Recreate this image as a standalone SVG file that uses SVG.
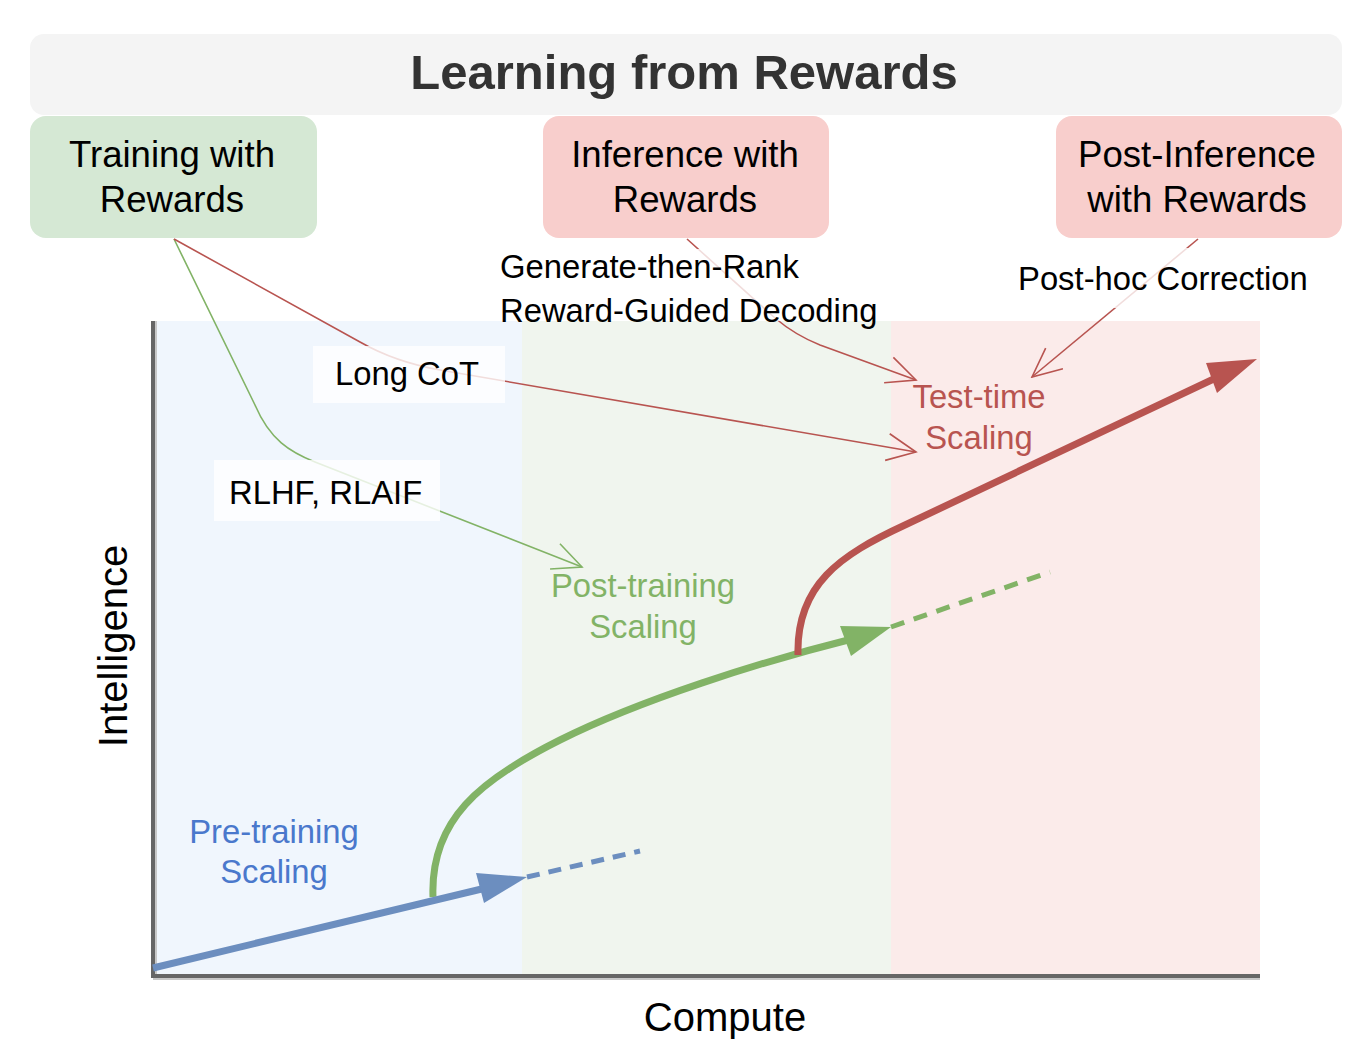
<svg xmlns="http://www.w3.org/2000/svg" width="1365" height="1055" viewBox="0 0 1365 1055">
<style>
text{font-family:"Liberation Sans",Arial,sans-serif}
.title{font-size:49px;font-weight:bold;fill:#333}
.box{font-size:36.6px;fill:#000}
.lbl{font-size:32.8px;fill:#000}
.axis{font-size:40px;fill:#000}
.thin{fill:none;stroke-width:1.6}
.tg{stroke:#82b366}
.tr{stroke:#b85450}
.bg{fill:#fff;fill-opacity:0.8}
</style>
<defs>
<marker id="og" markerUnits="userSpaceOnUse" viewBox="-32 -16 34 32" refX="0" refY="0" markerWidth="34" markerHeight="32" orient="auto"><path d="M-29,-13.5 L0,0 L-29,13.5" fill="none" stroke="#82b366" stroke-width="1.6"/></marker>
<marker id="or" markerUnits="userSpaceOnUse" viewBox="-32 -16 34 32" refX="0" refY="0" markerWidth="34" markerHeight="32" orient="auto"><path d="M-29,-13.5 L0,0 L-29,13.5" fill="none" stroke="#b85450" stroke-width="1.6"/></marker>
</defs>
<rect width="1365" height="1055" fill="#fff"/>
<g id="header"><rect x="30" y="34" width="1312" height="81" rx="14" fill="#f4f4f4"/><text class="title" x="684" y="89" text-anchor="middle">Learning from Rewards</text></g>
<g id="training"><rect x="30" y="116" width="287" height="122" rx="16" fill="#d5e8d4"/><text class="box" x="172" y="167" text-anchor="middle">Training with</text><text class="box" x="172" y="212" text-anchor="middle">Rewards</text></g>
<g id="inference"><rect x="543" y="116" width="286" height="122" rx="16" fill="#f8cecc"/><text class="box" x="685" y="167" text-anchor="middle">Inference with</text><text class="box" x="685" y="212" text-anchor="middle">Rewards</text></g>
<g id="postinference"><rect x="1056" y="116" width="286" height="122" rx="16" fill="#f8cecc"/><text class="box" x="1197" y="167" text-anchor="middle">Post-Inference</text><text class="box" x="1197" y="212" text-anchor="middle">with Rewards</text></g>
<g id="plot">
<rect x="153" y="321" width="369" height="655" fill="#f0f6fd"/>
<rect x="522" y="321" width="369" height="655" fill="#f0f5ee"/>
<rect x="891" y="321" width="369" height="655" fill="#fbebea"/>
<path d="M155,321 V978 H1260" fill="none" stroke="#c8c8c8" stroke-width="4"/>
<path d="M153,321 V976 H1260" fill="none" stroke="#666" stroke-width="4"/>
<text class="axis" x="725" y="1031" text-anchor="middle">Compute</text>
<text class="axis" transform="translate(127,646) rotate(-90)" text-anchor="middle">Intelligence</text>
</g>
<g id="curves">
<path d="M527,877 L640,851" fill="none" stroke="#6c8ebf" stroke-width="5" stroke-dasharray="13,9"/>
<path d="M891,627 L1050,572" fill="none" stroke="#82b366" stroke-width="5" stroke-dasharray="14,10"/>
<path d="M433,897 C430,820 480,780 560,740 C640,700 760,662 852,639" fill="none" stroke="#82b366" stroke-width="7"/>
<polygon points="891,627 840,626 851,656" fill="#82b366"/>
<path d="M153,968 L490,887" fill="none" stroke="#6c8ebf" stroke-width="7"/>
<polygon points="527,877 476,873 484,903" fill="#6c8ebf"/>
<path d="M798,655 C796,585 840,555 905,525 L1220,376" fill="none" stroke="#b85450" stroke-width="7"/>
<polygon points="1257,359 1206,363 1217,393" fill="#b85450"/>
</g>
<g id="connectors">
<path class="thin tg" d="M174,239 L255,405 C270,440 290,452 315,462 L582,567" marker-end="url(#og)"/>
<path class="thin tr" d="M174,239 L360,342 Q395,362 440,370 L916,452" marker-end="url(#or)"/>
<path class="thin tr" d="M687,239 L775,318 Q795,335 820,345 L916,380" marker-end="url(#or)"/>
<path class="thin tr" d="M1198,239 L1032,377" marker-end="url(#or)"/>
</g>
<g id="label-longcot"><rect class="bg" x="313" y="346" width="192" height="57"/><text class="lbl" x="335" y="385">Long CoT</text></g>
<g id="label-rlhf"><rect class="bg" x="214" y="460" width="226" height="61"/><text class="lbl" x="229" y="504">RLHF, RLAIF</text></g>
<g id="label-inference"><rect class="bg" x="495" y="249" width="385" height="72"/><text class="lbl" x="500" y="278">Generate-then-Rank</text><text class="lbl" x="500" y="322">Reward-Guided Decoding</text></g>
<g id="label-posthoc"><rect class="bg" x="1012" y="248" width="298" height="60"/><text class="lbl" x="1018" y="290">Post-hoc Correction</text></g>
<g id="scaling-labels">
<text class="lbl" x="274" y="843" text-anchor="middle" style="fill:#4a78cc">Pre-training</text>
<text class="lbl" x="274" y="883" text-anchor="middle" style="fill:#4a78cc">Scaling</text>
<text class="lbl" x="643" y="597" text-anchor="middle" style="fill:#82b366">Post-training</text>
<text class="lbl" x="643" y="638" text-anchor="middle" style="fill:#82b366">Scaling</text>
<text class="lbl" x="979" y="408" text-anchor="middle" style="fill:#b85450">Test-time</text>
<text class="lbl" x="979" y="449" text-anchor="middle" style="fill:#b85450">Scaling</text>
</g>
</svg>
